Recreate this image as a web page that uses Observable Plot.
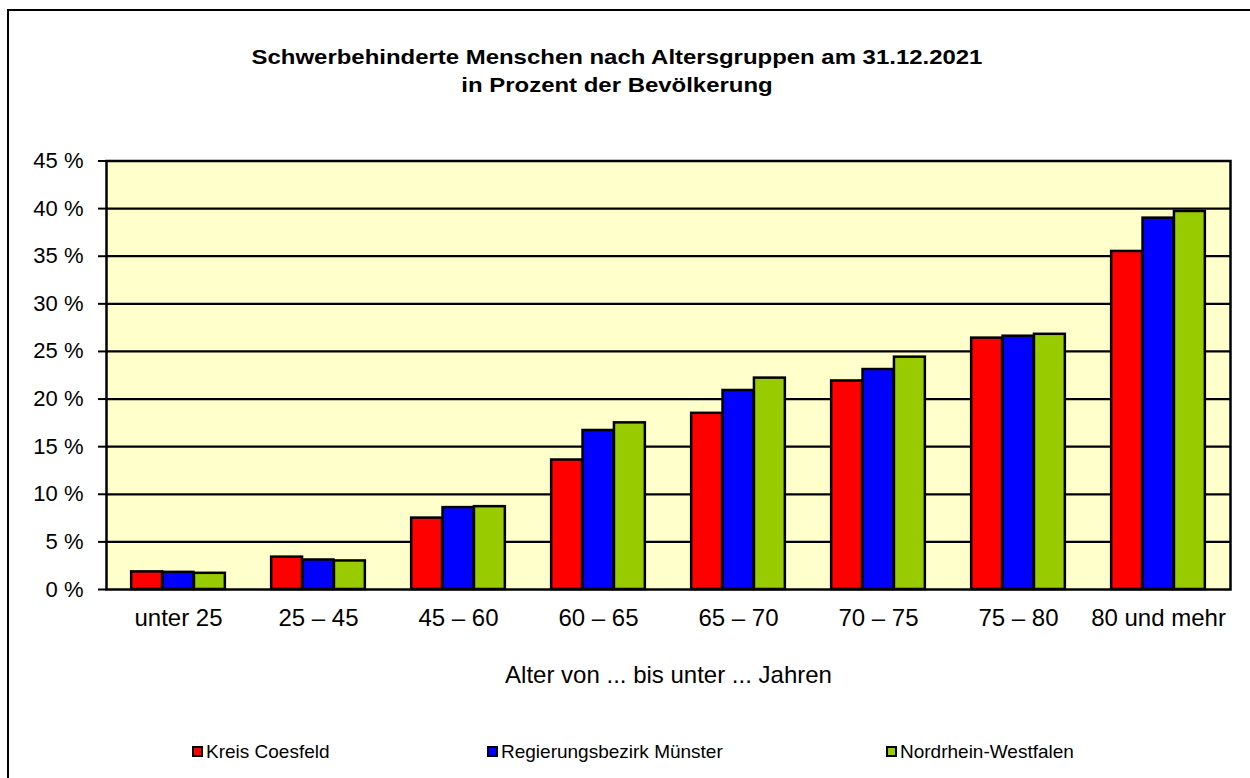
<!DOCTYPE html>
<html>
<head>
<meta charset="utf-8">
<script src="https://cdn.jsdelivr.net/npm/d3@7"></script>
<script src="https://cdn.jsdelivr.net/npm/@observablehq/plot@0.6"></script>
<style>
  html, body { margin: 0; padding: 0; background: #fff; }
  #page { position: relative; width: 1250px; height: 778px; overflow: hidden; font-family: "Liberation Sans", Arial, sans-serif; color: #000; }
  #frame { position: absolute; left: 7px; top: 9px; width: 1300px; height: 820px; border: 2.5px solid #000; box-sizing: border-box; }
  #title { position: absolute; left: 0; top: 43px; width: 1234px; text-align: center; font-weight: bold; font-size: 21px; line-height: 28px; transform: scaleX(1.14); transform-origin: 617px 0; }
  #chart { position: absolute; left: 0; top: 140px; }
  .leg-box { position: absolute; width: 11px; height: 11px; border: 2px solid #000; box-sizing: border-box; top: 746px; }
  .leg-text { position: absolute; top: 740px; font-size: 19px; line-height: 24px; white-space: nowrap; }
</style>
</head>
<body>
<div id="page">
  <div id="frame"></div>
  <div id="title">Schwerbehinderte Menschen nach Altersgruppen am 31.12.2021<br>in Prozent der Bevölkerung</div>
  <div id="chart"></div>
</div>
<script>
const categories = ["unter 25", "25 – 45", "45 – 60", "60 – 65", "65 – 70", "70 – 75", "75 – 80", "80 und mehr"];
const series = ["Kreis Coesfeld", "Regierungsbezirk Münster", "Nordrhein-Westfalen"];
const kreisCoesfeld = [1.85, 3.4, 7.5, 13.6, 18.5, 21.9, 26.4, 35.5];
const regbezMuenster = [1.8, 3.1, 8.6, 16.7, 20.9, 23.1, 26.6, 39.0];
const nordrheinWestfalen = [1.7, 3.0, 8.7, 17.5, 22.2, 24.4, 26.8, 39.7];
const yTicks = [0, 5, 10, 15, 20, 25, 30, 35, 40, 45];
const colors = ["#FF0000", "#0000FF", "#99CC00"];
const xTitle = "Alter von ... bis unter ... Jahren";

const valuesBySeries = [kreisCoesfeld, regbezMuenster, nordrheinWestfalen];
const data = [];
series.forEach((s, i) => categories.forEach((c, j) => data.push({category: c, series: s, value: valuesBySeries[i][j]})));

const barW = 31.4;
const chart = Plot.plot({
  width: 1250,
  height: 560,
  marginTop: 20.5,
  marginBottom: 111,
  marginLeft: 106,
  marginRight: 20,
  style: {fontFamily: "'Liberation Sans', Arial, sans-serif", background: "transparent", color: "#000", overflow: "visible"},
  x: {domain: categories, padding: 0},
  y: {domain: [0, 45]},
  color: {domain: series, range: colors},
  marks: [
    Plot.frame({fill: "#FFFFCC"}),
    Plot.ruleY(yTicks.filter(d => d > 0 && d < 45), {stroke: "#000", strokeWidth: 2.2}),
    ...series.map((s, i) => Plot.barY(data.filter(d => d.series === s), {
      x: "category", y: "value", fill: "series",
      stroke: "#000", strokeWidth: 2.5,
      insetLeft: (140.5 - barW) / 2, insetRight: (140.5 - barW) / 2,
      dx: (i - 1) * barW
    })),
    Plot.frame({stroke: "#000", strokeWidth: 2.5}),
    Plot.axisY({ticks: yTicks, tickFormat: d => `${d} %`, label: null, tickSize: 8, tickPadding: 15, fontSize: 22, strokeWidth: 2}),
    Plot.axisX({tickSize: 0, tickPadding: 19, fontSize: 24, label: null}),
    Plot.axisX({ticks: [], tickSize: 0, fontSize: 24, label: xTitle, labelAnchor: "center", labelOffset: 93})
  ]
});
document.getElementById("chart").appendChild(chart);

const page = document.getElementById("page");
const boxX = [192, 487, 886];
series.forEach((s, i) => {
  const b = document.createElement("div");
  b.className = "leg-box";
  b.style.left = boxX[i] + "px";
  b.style.background = colors[i];
  page.appendChild(b);
  const t = document.createElement("div");
  t.className = "leg-text";
  t.style.left = (boxX[i] + 14) + "px";
  t.textContent = s;
  page.appendChild(t);
});
</script>
</body>
</html>
